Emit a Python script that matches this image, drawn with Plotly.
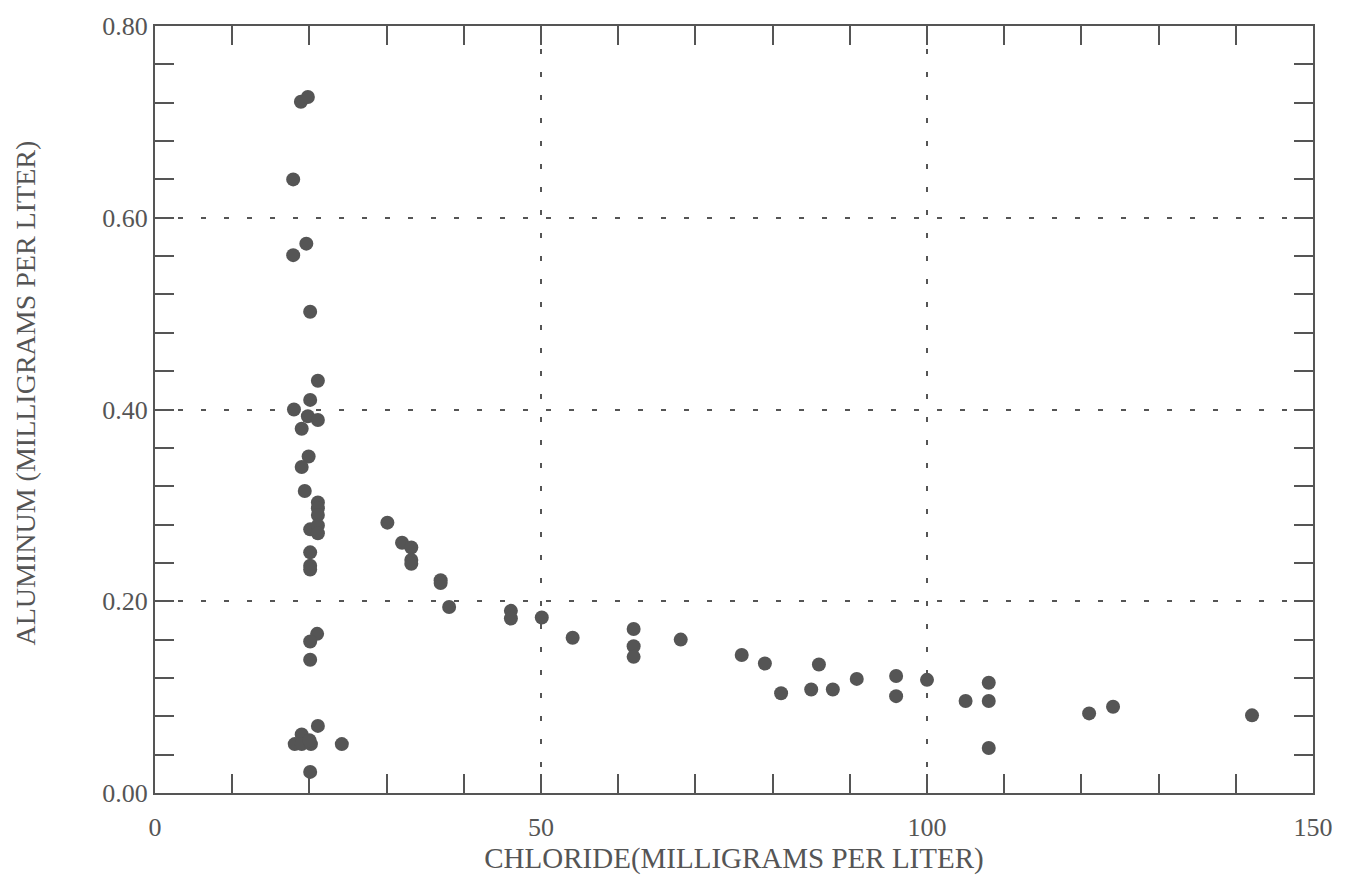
import plotly.graph_objects as go

chloride = [18.9, 19.8, 17.9, 17.9, 19.6, 20.1, 21.1, 18.0, 20.1, 19.8, 21.1, 19.0,
            19.9, 19.0, 19.4, 21.1, 21.1, 21.1, 20.1, 21.1, 21.1, 20.1, 20.1, 20.1,
            21.0, 20.1, 20.1, 18.1, 19.0, 19.0, 20.2, 20.0, 21.1, 24.2, 20.1,
            30.1, 32.0, 33.2, 33.2, 33.2, 37.0, 37.0, 38.1, 46.1, 46.1, 50.1, 54.1,
            62.0, 62.0, 62.0, 68.1, 76.0, 79.0, 81.1, 85.0, 86.0, 87.8, 90.9, 96.0,
            96.0, 100.0, 105.0, 108.0, 108.0, 108.0, 121.0, 124.1, 142.1]
aluminum = [0.721, 0.726, 0.640, 0.561, 0.573, 0.502, 0.430, 0.400, 0.410, 0.393, 0.389, 0.380,
            0.351, 0.340, 0.315, 0.303, 0.297, 0.290, 0.275, 0.279, 0.271, 0.251, 0.237, 0.233,
            0.166, 0.158, 0.139, 0.051, 0.061, 0.051, 0.051, 0.055, 0.070, 0.051, 0.022,
            0.282, 0.261, 0.256, 0.243, 0.239, 0.222, 0.219, 0.194, 0.190, 0.182, 0.183, 0.162,
            0.171, 0.153, 0.142, 0.160, 0.144, 0.135, 0.104, 0.108, 0.134, 0.108, 0.119, 0.122,
            0.101, 0.118, 0.096, 0.115, 0.096, 0.047, 0.083, 0.090, 0.081]

x_title = "CHLORIDE(MILLIGRAMS PER LITER)"
y_title = "ALUMINUM (MILLIGRAMS PER LITER)"

ink = "#555555"
serif = "Liberation Serif"

fig = go.Figure(go.Scatter(
    x=chloride, y=aluminum, mode="markers",
    marker=dict(size=14, color=ink, line=dict(width=0)),
))

axis_common = dict(
    showline=True, linecolor=ink, linewidth=2, mirror="allticks",
    ticks="inside", ticklen=19, tickwidth=2, tickcolor=ink,
    showgrid=True, gridcolor=ink, gridwidth=1.5, griddash="5px,18px",
    zeroline=False,
)

fig.update_xaxes(
    **axis_common, range=[0, 150], dtick=50, tick0=0,
    minor=dict(dtick=10, ticks="inside", ticklen=19, tickwidth=2, tickcolor=ink, showgrid=False),
    tickfont=dict(family=serif, size=26, color=ink),
    ticklabelstandoff=10,
    title=dict(text=x_title, font=dict(family=serif, size=29, color=ink), standoff=2),
)
fig.update_yaxes(
    **axis_common, range=[0, 0.8], dtick=0.2, tick0=0, tickformat=".2f",
    minor=dict(dtick=0.04, ticks="inside", ticklen=19, tickwidth=2, tickcolor=ink, showgrid=False),
    tickfont=dict(family=serif, size=26, color=ink),
    ticklabelstandoff=0,
)

fig.add_annotation(
    text=y_title, xref="paper", yref="paper", x=-0.1115, y=0.522,
    xanchor="center", yanchor="middle", textangle=-90, showarrow=False,
    font=dict(family=serif, size=28, color=ink),
)

fig.update_layout(
    width=1348, height=881,
    margin=dict(l=155, r=35, t=22, b=88),
    paper_bgcolor="white", plot_bgcolor="white",
    showlegend=False,
)

fig.write_html("out.html")
